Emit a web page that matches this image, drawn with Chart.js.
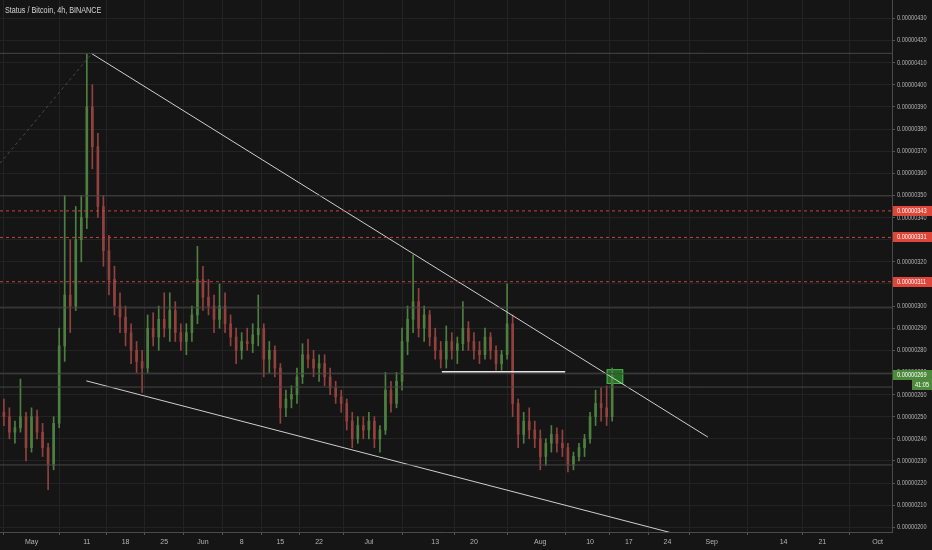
<!DOCTYPE html>
<html>
<head>
<meta charset="utf-8">
<script src="https://cdn.jsdelivr.net/npm/chart.js@4.4.1/dist/chart.umd.min.js"></script>
<style>
  html, body { margin: 0; padding: 0; background: #151515; }
  #wrap { position: relative; width: 932px; height: 550px; }
  #title {
    position: absolute; left: 5px; top: 5px;
    font: 8.5px "Liberation Sans", sans-serif;
    color: #d4d4d4; transform: scaleX(0.85); transform-origin: left top;
    white-space: nowrap;
  }
</style>
</head>
<body>
<div id="wrap">
  <canvas id="chart" width="932" height="550"></canvas>
  <div id="title">Status / Bitcoin, 4h, BINANCE</div>
</div>
<script>
// daily candles, day 0 = May 1, first candle is Apr 25
const firstDay = -6;
const openV = [255, 252, 250, 243, 245, 250,
  236, 250, 243, 236, 228, 247, 282, 305, 300, 330,
  340, 390, 372, 345, 325, 312, 300, 295, 288, 280,
  275, 272, 290, 286, 294, 290, 298, 288, 284, 288,
  296, 312, 304, 300, 294, 300, 292, 286, 280, 284,
  283, 287, 290, 276, 280, 272, 254, 258, 260, 268,
  278, 276, 272, 274, 268, 263, 259, 256, 248, 240,
  246, 244, 248, 240, 244, 262, 256, 266, 284, 294,
  302, 290, 296, 286, 280, 276, 284, 280, 283, 290,
  284, 280, 278, 286, 280, 274, 278, 292, 256, 242,
  248, 244, 240, 232, 238, 242, 238, 236, 228, 232,
  236, 240, 250, 256, 254, 250];
const closeV = [252, 250, 243, 245, 250, 236,
  250, 243, 236, 228, 247, 282, 305, 300, 330, 340,
  390, 372, 345, 325, 312, 300, 295, 288, 280, 275,
  272, 290, 286, 294, 290, 298, 288, 284, 288, 296,
  312, 304, 300, 294, 300, 292, 286, 280, 284, 283,
  287, 290, 276, 280, 272, 254, 258, 260, 268, 278,
  276, 272, 274, 268, 263, 259, 256, 248, 240, 246,
  244, 248, 240, 244, 262, 256, 266, 284, 294, 302,
  290, 296, 286, 280, 276, 284, 280, 283, 290, 284,
  280, 278, 286, 280, 274, 278, 292, 256, 242, 248,
  244, 240, 232, 238, 242, 238, 236, 228, 232, 236,
  240, 250, 256, 254, 250, 269];
const highV = [260, 258, 254, 248, 267, 252,
  254, 253, 247, 238, 250, 290, 350, 330, 345, 350,
  414, 400, 378, 350, 332, 318, 306, 300, 292, 284,
  280, 296, 297, 300, 306, 306, 302, 292, 292, 300,
  327, 318, 312, 305, 310, 306, 296, 290, 288, 290,
  292, 305, 292, 284, 282, 274, 262, 264, 272, 283,
  285, 280, 278, 278, 272, 266, 262, 258, 252, 250,
  250, 252, 250, 246, 270, 266, 270, 290, 300, 323,
  308, 300, 298, 290, 284, 291, 288, 286, 302, 293,
  288, 284, 290, 288, 282, 280, 310, 296, 258, 252,
  254, 248, 244, 240, 246, 245, 244, 238, 234, 238,
  242, 252, 262, 263, 264, 272];
const lowV = [250, 246, 240, 238, 243, 230,
  234, 240, 232, 217, 226, 245, 275, 288, 298, 320,
  335, 362, 340, 318, 305, 296, 288, 282, 274, 270,
  261, 270, 282, 280, 286, 284, 284, 280, 278, 284,
  292, 298, 296, 288, 290, 288, 282, 274, 276, 280,
  279, 282, 268, 270, 268, 247, 250, 254, 256, 265,
  272, 268, 266, 264, 260, 256, 252, 244, 236, 238,
  240, 240, 236, 234, 242, 252, 254, 262, 278, 288,
  286, 284, 282, 276, 272, 272, 276, 274, 280, 280,
  276, 274, 276, 276, 271, 271, 276, 250, 236, 238,
  240, 236, 226, 228, 234, 234, 232, 225, 226, 230,
  232, 238, 246, 248, 246, 248];

// x axis ticks (days from May 1) and their labels
const tickDays = [0, 10, 17, 24, 31, 38, 45, 52, 61, 73, 80, 92, 101, 108, 115, 123, 136, 143, 153];
const tickLabels = ["May", "11", "18", "25", "Jun", "8", "15", "22", "Jul", "13", "20", "Aug", "10", "17", "24", "Sep", "14", "21", "Oct"];

// drawn levels (satoshi)
const greyLevels = [414.2, 349.8, 299.2, 269.4, 263.4, 228.2];
const redLevels = [343, 331, 311];
const lastPrice = 269;
const timerText = "41:05";

// trend lines [day, price]
const upperTrend = [[10.8, 414.2], [122.3, 240.8]];
const lowerTrend = [[9.9, 266.2], [115.6, 197.6]];
const dashedTrend = [[-5.7, 364.5], [10.6, 413.2]];
const flatLine = [[74.2, 270.3], [96.5, 270.3]];
const zoneBox = { x0: 104, x1: 107, y0: 264.8, y1: 271.5 };

const xMin = -5.7, xMax = 155.6, yMin = 197.9, yMax = 438.3;
const UP = "#4d8040", DOWN = "#93413f";
const FONT = "'Liberation Sans', sans-serif";

const candleColor = openV.map((o, i) => closeV[i] >= o ? UP : DOWN);
const wickData = lowV.map((l, i) => ({ x: firstDay + i, y: [l, highV[i]] }));
const bodyData = openV.map((o, i) => ({ x: firstDay + i, y: [o, closeV[i] === o ? o + 0.4 : closeV[i]] }));

const pts = arr => arr.map(p => ({ x: p[0], y: p[1] }));
const lineSet = (data, color, width, dash) => ({
  type: "line", data, borderColor: color, borderWidth: width,
  borderDash: dash || [], pointRadius: 0, fill: false, order: 0
});

const fmt = v => (v / 1e8).toFixed(8);

const datasets = [
  { type: "bar", data: wickData, backgroundColor: candleColor, barThickness: 1, grouped: false, order: 2 },
  { type: "bar", data: bodyData, backgroundColor: candleColor, barThickness: 2, grouped: false, order: 1 }
];
greyLevels.forEach(v => datasets.push(lineSet([{ x: xMin, y: v }, { x: xMax, y: v }], "#474747", 1)));
redLevels.forEach(v => datasets.push(lineSet([{ x: xMin, y: v }, { x: xMax, y: v }], "#c9423f", 1, [3, 3])));
datasets.push(lineSet(pts(dashedTrend), "#4a4a4a", 1, [3, 3]));
datasets.push(lineSet(pts(upperTrend), "#cfcfcf", 1));
datasets.push(lineSet(pts(lowerTrend), "#cfcfcf", 1));
datasets.push(lineSet(pts(flatLine), "#e6e6e6", 1.5));

// narrow text, like the platform's condensed axis font
const narrowText = (ctx, text, x, y) => {
  ctx.save();
  ctx.translate(x, y);
  ctx.scale(0.8, 1);
  ctx.fillText(text, 0, 0);
  ctx.restore();
};

const overlays = {
  id: "overlays",
  beforeDatasetsDraw(chart) {
    const { ctx, scales: { x, y } } = chart;
    const l = x.getPixelForValue(zoneBox.x0), r = x.getPixelForValue(zoneBox.x1);
    const t = y.getPixelForValue(zoneBox.y1), b = y.getPixelForValue(zoneBox.y0);
    ctx.save();
    ctx.fillStyle = "rgba(40,140,40,0.75)";
    ctx.strokeStyle = "#4caf50";
    ctx.lineWidth = 1;
    ctx.fillRect(l, t, r - l, b - t);
    ctx.strokeRect(l + 0.5, t + 0.5, r - l - 1, b - t - 1);
    ctx.restore();
  },
  afterDraw(chart) {
    const { ctx, chartArea, scales: { y } } = chart;
    const left = chartArea.right + 1;
    ctx.save();
    ctx.font = "7px " + FONT;
    ctx.textBaseline = "middle";
    // price axis labels
    ctx.fillStyle = "#b4b4b4";
    y.ticks.forEach(t => narrowText(ctx, fmt(t.value), chartArea.right + 5, Math.round(y.getPixelForValue(t.value))));
    const tag = (v, bg, text) => {
      const py = Math.round(y.getPixelForValue(v));
      ctx.fillStyle = bg;
      ctx.fillRect(left, py - 5, 932 - left, 10);
      ctx.fillStyle = "#ffffff";
      narrowText(ctx, text, left + 4, py);
    };
    redLevels.forEach(v => tag(v, "#e0453a", fmt(v)));
    tag(lastPrice, "#4d8a3c", fmt(lastPrice));
    // countdown box under the last price
    const py = Math.round(y.getPixelForValue(lastPrice)) + 10;
    ctx.fillStyle = "#4d8a3c";
    ctx.fillRect(912, py - 5, 20, 10);
    ctx.fillStyle = "#ffffff";
    narrowText(ctx, timerText, 915, py);
    ctx.restore();
  }
};

new Chart(document.getElementById("chart"), {
  type: "bar",
  data: { datasets },
  plugins: [overlays],
  options: {
    responsive: false,
    devicePixelRatio: 1,
    animation: false,
    layout: { padding: 0 },
    plugins: { legend: { display: false }, tooltip: { enabled: false } },
    scales: {
      x: {
        type: "linear", min: xMin, max: xMax, offset: false,
        afterBuildTicks: s => { s.ticks = tickDays.map(v => ({ value: v })); },
        afterFit: s => { s.height = 18; },
        grid: { color: "#232323", tickLength: 3, tickColor: "#555" },
        border: { display: true, color: "#4a4a4a" },
        ticks: {
          color: "#b4b4b4", font: { size: 7, family: FONT }, padding: 3,
          maxRotation: 0, autoSkip: false,
          callback: (v, i) => tickLabels[i]
        }
      },
      y: {
        type: "linear", position: "right", min: yMin, max: yMax,
        afterFit: s => { s.width = 40; },
        grid: { color: "#232323", tickLength: 3, tickColor: "#555" },
        border: { display: true, color: "#4a4a4a" },
        ticks: {
          stepSize: 10, includeBounds: false, display: false,
          callback: v => fmt(v)
        }
      }
    }
  }
});
</script>
</body>
</html>
